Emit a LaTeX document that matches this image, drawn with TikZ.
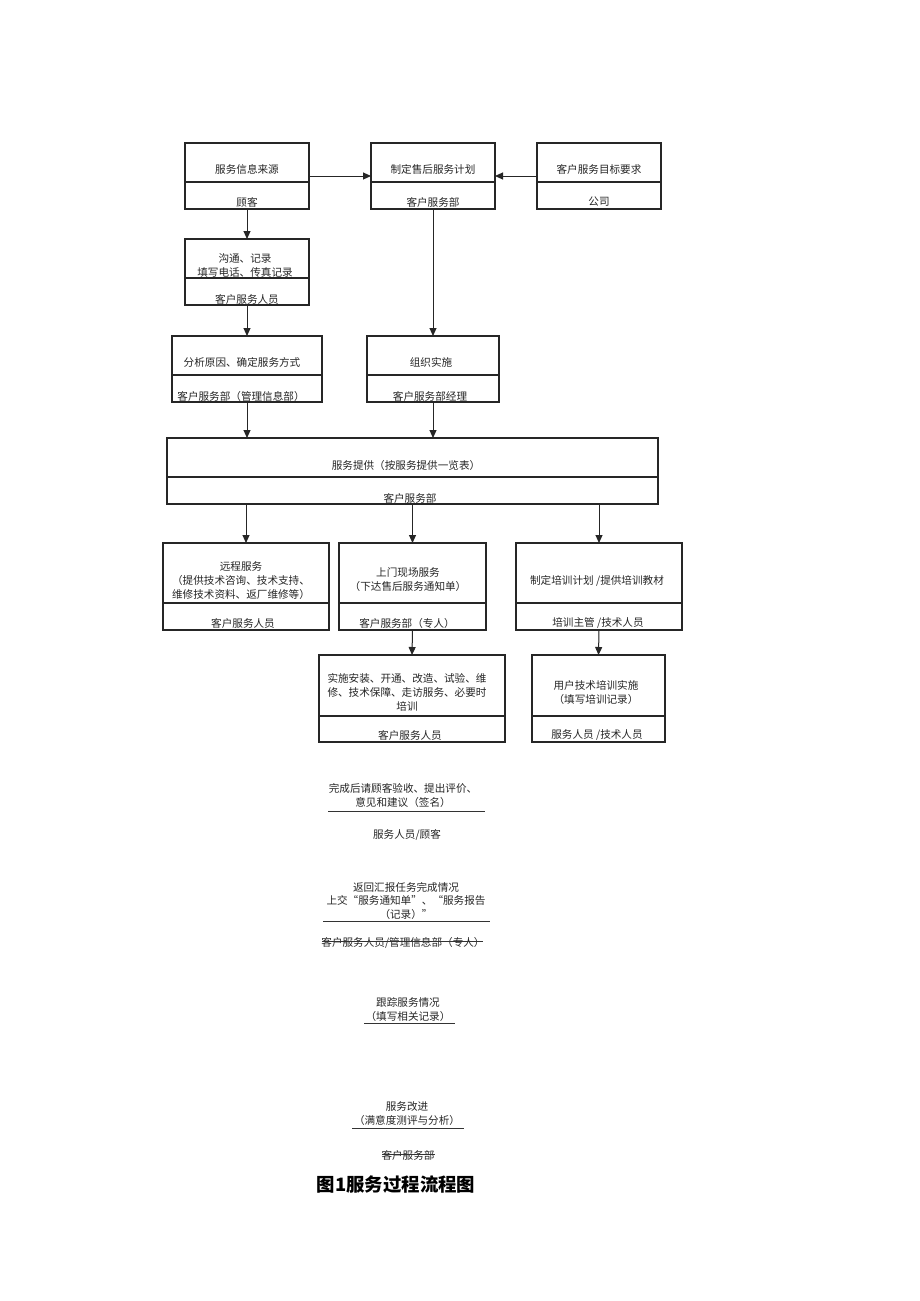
\documentclass[tikz,border=0pt]{standalone}
\usepackage{fontspec}
\newfontfamily\cjk{Noto Sans CJK SC}
\usetikzlibrary{arrows.meta}
\begin{document}
\begin{tikzpicture}[x=1pt,y=-1pt,
  box/.style={draw=black!85, line width=1.2pt, inner sep=0pt, outer sep=0pt},
  divline/.style={draw=black!85, line width=1.2pt},
  arr/.style={-{Triangle[length=8pt,width=7pt]}, line width=1pt, draw=black!85, fill=black!85},
  t/.style={font=\cjk\fontsize{10.6pt}{14pt}\selectfont, inner sep=0pt, align=center, text=black!85},
  ttl/.style={font=\cjk\bfseries\fontsize{18.4pt}{20pt}\selectfont, inner sep=0pt, text=black},
  rule/.style={draw=black!80, line width=0.9pt},
]
\useasboundingbox[fill=white] (0,0) rectangle (920,1301);

% ---- boxes
\node[box, minimum width=124pt, minimum height=66pt] (b1) at (247,176) {};
\node[box, minimum width=124pt, minimum height=66pt] (b2) at (433,176) {};
\node[box, minimum width=124pt, minimum height=66pt] (b3) at (599,176) {};
\node[box, minimum width=124pt, minimum height=66pt] (b4) at (247,272) {};
\node[box, minimum width=150pt, minimum height=66pt] (b5) at (247,369) {};
\node[box, minimum width=132pt, minimum height=66pt] (b6) at (433,369) {};
\node[box, minimum width=491pt, minimum height=66pt] (b7) at (412.5,471) {};
\node[box, minimum width=166pt, minimum height=87pt] (b8) at (246,586.5) {};
\node[box, minimum width=147pt, minimum height=87pt] (b9) at (412.5,586.5) {};
\node[box, minimum width=166pt, minimum height=87pt] (b10) at (599,586.5) {};
\node[box, minimum width=186pt, minimum height=87pt] (b11) at (412,698.5) {};
\node[box, minimum width=133pt, minimum height=87pt] (b12) at (598.5,698.5) {};

% ---- dividers
\foreach \b/\y in {b1/182,b2/182,b3/182,b4/278,b5/375,b6/375,b7/477,b8/603,b9/603,b10/603,b11/716,b12/716}
  \draw[divline] (\b.west |- 0,\y) -- (\b.east |- 0,\y);

% ---- box texts
\node[t] (b1t) at (247,169) {服务信息来源};
\node[t] (b1s) at (247,202) {顾客};
\node[t] (b2t) at (433,169) {制定售后服务计划};
\node[t] (b2s) at (433,202) {客户服务部};
\node[t] (b3t) at (599,169) {客户服务目标要求};
\node[t] (b3s) at (599,202) {公司};
\node[t] (b4t) at (245,265.5) {沟通、记录\\填写电话、传真记录};
\node[t] (b4s) at (247,299) {客户服务人员};
\node[t] (b5t) at (242,362) {分析原因、确定服务方式};
\node[t] (b5s) at (241,396) {客户服务部（管理信息部）};
\node[t] (b6t) at (431,362) {组织实施};
\node[t] (b6s) at (430,396) {客户服务部经理};
\node[t] (b7t) at (406,465) {服务提供（按服务提供一览表）};
\node[t] (b7s) at (410,498) {客户服务部};
\node[t] (b8t) at (241,581) {远程服务\\（提供技术咨询、技术支持、\\维修技术资料、返厂维修等）};
\node[t] (b8s) at (243,623) {客户服务人员};
\node[t] (b9t) at (408,580) {上门现场服务\\（下达售后服务通知单）};
\node[t] (b9s) at (407,623) {客户服务部（专人）};
\node[t] (b10t) at (597,581) {制定培训计划 /提供培训教材};
\node[t] (b10s) at (598,623) {培训主管 /技术人员};
\node[t] (b11t) at (407,692) {实施安装、开通、改造、试验、维\\修、技术保障、走访服务、必要时\\培训};
\node[t] (b11s) at (410,735) {客户服务人员};
\node[t] (b12t) at (596,693) {用户技术培训实施\\（填写培训记录）};
\node[t] (b12s) at (597,735) {服务人员 /技术人员};

% ---- arrows
\draw[arr] (b1.east) -- (b2.west);
\draw[arr] (b3.west) -- (b2.east);
\draw[arr] (b1.south) -- (b4.north);
\draw[arr] (b4.south) -- (b5.north);
\draw[arr] (b2.south) -- (b6.north);
\draw[arr] (b5.south) -- (b5.south |- b7.north);
\draw[arr] (b6.south) -- (b6.south |- b7.north);
\draw[arr] (b8.north |- b7.south) -- (b8.north);
\draw[arr] (b9.north |- b7.south) -- (b9.north);
\draw[arr] (b10.north |- b7.south) -- (b10.north);
\draw[arr] (b9.south) -- (b11.north);
\draw[arr] (b10.south) -- (b12.north);

% ---- lower part (boxes without frames)
\node[t] (c1) at (403,795.5) {完成后请顾客验收、提出评价、\\意见和建议（签名）};
\draw[rule] (328,811) -- (485,811);
\node[t] (c1s) at (407,835) {服务人员/顾客};

\node[t, font=\cjk\fontsize{10.6pt}{13.5pt}\selectfont] (c2) at (406,900.5) {返回汇报任务完成情况\\上交“服务通知单”、“服务报告\\（记录）”};
\draw[rule] (323,921) -- (490,921);
\node[t] (c2s) at (403,942.5) {客户服务人员/管理信息部（专人）};
\draw[rule] (322,941.5) -- (483,941.5);

\node[t] (c3) at (408,1009.5) {跟踪服务情况\\（填写相关记录）};
\draw[rule] (364,1023) -- (455,1023);

\node[t] (c4) at (407,1114) {服务改进\\（满意度测评与分析）};
\draw[rule] (352,1128) -- (464,1128);
\node[t] (c4s) at (408,1155) {客户服务部};
\draw[rule] (382,1154) -- (435,1154);

\node[ttl] (title) at (396,1184) {图1服务过程流程图};
\end{tikzpicture}
\end{document}
